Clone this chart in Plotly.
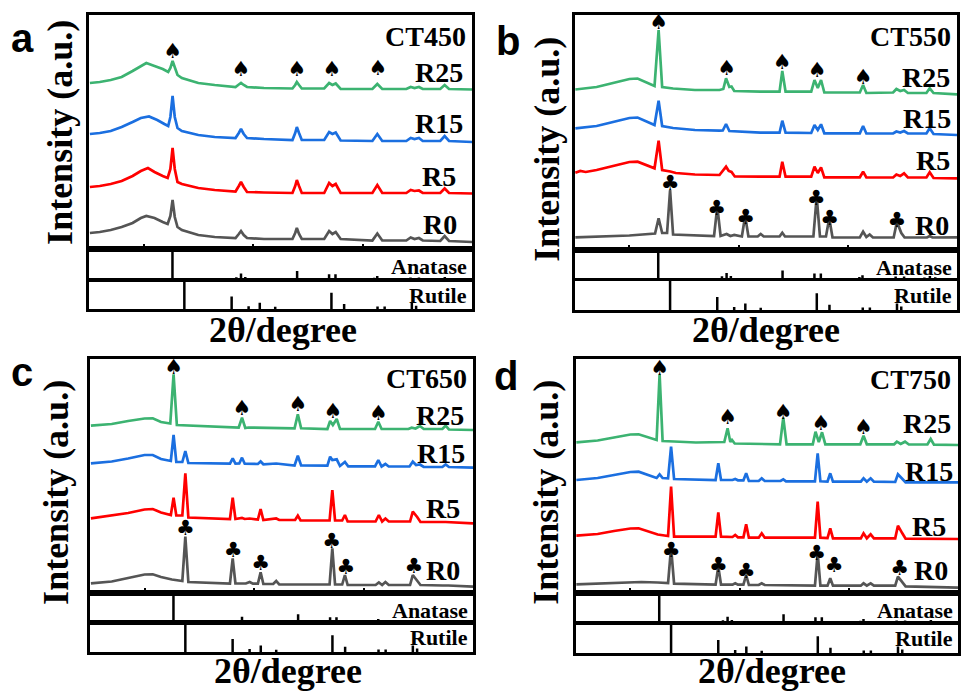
import plotly.graph_objects as go

W, H = 961, 691
THETA_RANGE = [10, 80]

# ---------------- reference stick patterns ----------------
ANATASE_POS = [25.28, 36.95, 37.80, 38.58, 48.05, 53.89, 55.06, 62.12, 62.69, 68.76, 70.31, 74.03, 75.03, 76.02]
ANATASE_INT = [100, 6, 18, 7, 27, 16, 16, 4, 10, 5, 5, 2, 7, 3]
RUTILE_POS = [27.45, 36.09, 39.19, 41.23, 44.05, 54.32, 56.64, 62.74, 64.04, 69.01, 69.79]
RUTILE_INT = [100, 45, 10, 22, 8, 58, 18, 9, 9, 22, 12]

SERIES_NAMES = ["R0", "R5", "R15", "R25"]
SAMPLE_TITLES = ["CT450", "CT550", "CT650", "CT750"]
PANEL_LETTERS = ["a", "b", "c", "d"]

# ---------------- panel a (CT450): (2theta, intensity a.u.) ----------------
A_R0 = [(10.2,16),(12,17),(14,19),(16,22),(18,26),(19.5,31),(20.5,33),(22,31),(23.5,27),(24.4,25),(24.9,33),(25.3,49),(25.7,32),(26.2,22),(27,19),(30,14),(33,12),(36.8,11),(37.4,15),(37.8,18),(38.3,14),(38.9,11),(42,10),(47.2,10),(47.7,16),(48.0,21),(48.4,15),(48.9,10),(53.0,10),(53.9,18),(54.5,15),(55.1,17),(56.0,10),(61.8,8.5),(62.7,15.5),(63.6,8.5),(68.0,8.5),(68.8,11.5),(69.5,10),(70.3,11),(71.0,8.5),(74.2,8),(75.0,13),(75.8,8),(80,7)]
A_R5 = [(10.2,62),(12,63),(14,65),(16,68),(18,73),(19.5,78),(20.8,81),(22,77),(23.5,73),(24.4,71),(24.9,80),(25.3,101),(25.7,80),(26.2,67),(27,65),(30,61),(33,59),(36.8,57.5),(37.4,63),(37.8,67),(38.3,62),(38.9,57),(42,56.5),(47.2,56),(47.7,63),(48.0,69),(48.4,63),(48.9,56),(53.0,56),(53.9,66),(54.5,63),(55.1,65),(56.0,56),(61.8,56),(62.7,64),(63.6,56),(68.0,56),(68.8,59),(69.5,58),(70.3,58.5),(71.0,56),(74.2,56),(75.0,60.5),(75.8,56),(80,55.5)]
A_R15 = [(10.2,115),(12,116),(14,118),(16,122),(18,127),(19.5,131),(21,132.5),(22.5,129),(23.8,125),(24.5,123),(24.9,132),(25.3,153),(25.7,132),(26.2,121),(27,118),(30,114),(33,112),(36.8,111),(37.4,116),(37.8,120),(38.3,115),(38.9,111),(42,110),(47.2,109),(47.7,116),(48.0,122),(48.4,116),(48.9,109),(53.0,109),(53.9,117),(54.5,115),(55.1,116.5),(56.0,108.5),(61.8,108),(62.7,115),(63.6,108),(68.0,108),(68.8,111),(69.5,110),(70.3,111),(71.0,108),(74.2,108),(75.0,113),(75.8,108),(80,107)]
A_R25 = [(10.2,166),(12,167),(14,169),(16,172),(18,178),(19.5,183),(20.5,186),(22,183),(23.5,180),(24.5,177),(24.9,181),(25.3,188),(25.7,181),(26.2,174),(27,171),(30,166),(33,164),(36.8,162),(37.4,164.5),(37.8,166),(38.3,164),(38.9,162),(42,161),(47.2,160.5),(47.7,164),(48.0,167),(48.4,164),(48.9,160.5),(53.0,160.5),(53.9,166),(54.5,164),(55.1,165.5),(56.0,160),(61.8,160),(62.7,165),(63.6,160),(68.0,160),(68.8,162),(69.5,161),(70.3,162),(71.0,160),(74.2,160),(75.0,164),(75.8,160),(80,159.5)]
A_SPADES = [(25.3,196),(37.8,178),(48.0,178),(54.4,178),(62.8,179)]
A_CLUBS = []
A_LABELS = [(79.3,213),(77.7,25),(77.5,73),(78.8,126),(78.7,177)]  # title, R0, R5, R15, R25

# ---------------- panel b (CT550) ----------------
B_R0 = [(10.1,12.7),(15,13.5),(20,14.5),(24.7,16.5),(25.35,31.7),(26.0,17),(26.9,17),(27.45,60),(28.0,15.5),(35.5,14),(36.1,43.3),(36.7,14),(37.8,16),(38.5,14),(39.2,15),(40.6,13.5),(41.2,34),(41.8,13.5),(43.5,13.5),(44.05,16),(44.6,13.5),(47.5,13.5),(48.0,17.3),(48.5,13.5),(53.7,13.5),(54.3,53.3),(54.9,13.5),(56.0,13.5),(56.6,31.7),(57.2,12.5),(62.2,12.5),(62.8,18.3),(63.4,13),(64.0,15.5),(64.6,12.5),(68.4,12.5),(69.0,28.3),(69.8,17),(70.4,12.5),(74.5,12.5),(75.0,14),(75.5,12.5),(80,12.7)]
B_R5 = [(10.1,77.3),(11,79),(12,78),(14,80),(17,84),(20,88),(21.5,88.3),(23,85),(24.6,81.7),(25.35,109.3),(26.0,80),(27.5,78.5),(28.5,77),(32,75.5),(36.5,75),(37.7,83.3),(38.2,79),(38.7,78),(39.3,73.5),(44,73.3),(47.5,73.3),(48.0,88.3),(48.6,73.3),(53.3,73.3),(53.9,83.3),(54.5,77),(55.1,82.7),(55.7,72.7),(62.2,72.7),(62.8,78.3),(63.4,72.5),(68.3,72.5),(68.9,75.5),(69.6,74),(70.3,76.7),(71.0,72.5),(74.4,72.5),(75.0,77.7),(75.7,72),(80,71.7)]
B_R15 = [(10.1,121.7),(14,124),(17,128),(20,132),(21.5,132.5),(23,129),(24.6,125),(25.35,149.3),(26.0,124),(28,122),(32,120),(36.5,119.3),(37.1,119.5),(37.7,126),(38.3,119),(44,117.3),(47.5,117.3),(48.0,129.3),(48.6,117.3),(53.3,117),(53.9,125),(54.5,120),(55.1,125.7),(55.7,116.7),(62.2,116.7),(62.8,124),(63.4,116.5),(68.3,116.5),(68.9,118.5),(69.6,117.5),(70.3,119),(71.0,116.5),(74.4,116.5),(75.0,121.7),(75.7,116),(80,115)]
B_R25 = [(10.1,160.5),(14,163),(17,167),(20,171),(21.5,171.5),(23,168),(24.6,164),(25.35,220),(26.0,163),(28,161.5),(32,160),(36.5,160),(37.2,161),(37.7,171.7),(38.3,163),(38.7,163.5),(39.2,159),(44,158.3),(47.5,158.3),(48.0,179),(48.6,158.3),(53.3,158.3),(53.9,170),(54.5,162),(55.1,170),(55.7,157.5),(62.2,157.5),(62.8,165),(63.4,157),(68.3,157.5),(68.9,161),(69.6,159),(70.3,160),(71.0,157),(74.4,157),(75.0,161.7),(75.7,157),(80,155.7)]
B_SPADES = [(25.35,226),(37.8,180),(48.0,186.7),(54.4,178),(62.8,171.7)]
B_CLUBS = [(27.45,65),(36.0,40),(41.3,31.7),(54.2,50),(56.7,30),(69.0,28.3)]
B_LABELS = [(79.3,214),(78.9,25),(79.0,90),(79.3,131.7),(79.0,172.7)]

# ---------------- panel c (CT650) ----------------
C_R0 = [(10.2,9.7),(14,11.5),(17,15),(20,18.5),(21.5,18.7),(23,16),(25,13.5),(26.9,12),(27.45,56.3),(28.0,11),(35.6,9.5),(36.1,34.7),(36.6,9.5),(38.5,9.5),(39.2,11),(39.8,9.3),(40.7,9.3),(41.2,20.7),(41.7,9),(43.5,9),(44.05,12),(44.6,8.7),(53.8,8.5),(54.3,44.7),(54.8,8.5),(56.1,8.5),(56.6,18),(57.1,8),(62.2,8),(62.8,10.5),(63.4,8),(64.0,11),(64.6,8),(68.5,8),(69.0,18),(69.8,12.7),(70.4,8),(74.5,7.5),(75.5,7.5),(80,6.3)]
C_R5 = [(10.2,74.7),(12,76),(14,77.5),(17,80),(20,83.5),(21.5,84),(23,80.5),(24.8,78),(25.3,95.3),(25.8,77.5),(26.9,77.5),(27.45,119.7),(28.0,75.5),(35.6,74),(36.1,95.3),(36.6,74),(37.8,75),(38.3,74),(39.2,74.5),(40.7,73.5),(41.2,84),(41.7,73),(44.05,74.5),(44.6,73),(47.5,73),(48.0,77.3),(48.5,72.5),(53.8,72.5),(54.3,103),(54.8,72.5),(56.1,72.5),(56.6,78),(57.1,71.5),(62.2,71.5),(62.8,78),(63.4,71.5),(64.0,74.5),(64.6,71.5),(68.5,71.5),(69.0,81.3),(69.8,76),(70.4,71),(75,71),(80,69.7)]
C_R15 = [(10.2,129.7),(14,131.5),(17,134.5),(20,138),(21.5,138),(23,134),(24.8,132),(25.3,158),(25.8,131),(26.9,131),(27.45,142),(28.0,130),(35.6,129.3),(36.1,134.7),(36.6,129.3),(37.3,129.5),(37.8,135.3),(38.3,129.3),(40.7,129),(41.2,131.5),(41.7,128.7),(44.05,129.5),(47.4,127.5),(48.0,137.3),(48.6,127.5),(53.4,127.3),(53.9,136.3),(54.3,133),(55.1,133.7),(55.7,127),(56.6,131),(57.2,126.7),(62.1,126.7),(62.7,133),(63.3,126.5),(64.0,129),(64.6,126.5),(68.4,126.5),(69.0,131.3),(69.6,128),(70.3,128.5),(71.0,126),(74.4,126),(75.0,128.5),(75.6,126),(80,125.3)]
C_R25 = [(10.2,167.3),(14,169),(17,172),(20,174.5),(21.5,174.7),(23,171),(24.7,169.5),(25.3,218.7),(25.9,168),(28,167.5),(32,167),(37.2,165.5),(37.8,175.3),(38.4,165),(39.0,165.5),(47.4,164.7),(48.0,178.7),(48.6,164.7),(53.4,164),(53.9,172),(54.4,168),(55.1,174),(55.7,164),(62.1,164),(62.7,171.3),(63.3,164),(68.2,164),(68.8,165.3),(69.5,164.5),(70.3,167),(71.0,164),(74.4,164),(75.0,167.3),(75.6,163.5),(80,163)]
C_SPADES = [(25.3,224.7),(37.8,183),(48.0,187),(54.4,180.3),(62.7,178.7)]
C_CLUBS = [(27.45,63.7),(36.2,41.3),(41.2,28),(54.2,50.7),(56.8,24.7),(69.2,25.3)]
C_LABELS = [(79.3,214.7),(78.0,23),(78.0,84.7),(78.9,139.7),(78.8,178)]

# ---------------- panel d (CT750) ----------------
D_R0 = [(10.1,8.7),(14,9.5),(17,10.5),(20,11.3),(22,11),(25,10.5),(26.9,10),(27.45,45.3),(28.0,9.3),(35.6,8.3),(36.1,26.3),(36.6,8.3),(38.7,8.3),(39.2,9.7),(39.7,8.3),(40.7,8.3),(41.2,18),(41.7,8),(43.5,8),(44.05,9.7),(44.6,8),(53.8,7.3),(54.3,39.7),(54.8,7.3),(56.1,7.3),(56.6,14.7),(57.1,7.3),(62.2,7.3),(62.7,9.7),(63.3,7.3),(64.0,9.7),(64.6,7.3),(68.5,7.3),(69.0,16.3),(69.8,10.7),(70.4,6.7),(80,5.3)]
D_R5 = [(10.1,57.3),(14,59),(17,62),(20,64.5),(21.5,64.7),(23,62),(25,58.5),(26.9,57),(27.45,106.3),(28.0,56.3),(35.6,56.3),(36.1,80.7),(36.6,56.3),(38.7,56),(39.2,58),(39.7,55.7),(40.7,55.7),(41.2,68.7),(41.7,55.3),(43.5,55.3),(44.05,59.7),(44.6,55.3),(53.8,55.3),(54.3,91.3),(54.8,55.3),(56.1,55),(56.6,64.7),(57.1,54.7),(62.2,54.7),(62.7,59.7),(63.3,54.7),(64.0,58.7),(64.6,54.7),(68.5,54.7),(69.0,67.3),(69.8,59.7),(70.4,54.3),(80,54)]
D_R15 = [(10.1,113),(14,115),(17,118),(20,121),(21.5,121.3),(23,118.5),(24.8,115),(25.35,118.7),(25.9,115),(26.9,114.7),(27.45,146.3),(28.0,114),(35.6,113),(36.1,129.7),(36.6,113),(38.7,113),(39.2,114),(39.7,112.7),(40.7,112.7),(41.2,119.7),(41.7,112),(43.5,112),(44.05,114.7),(44.6,112),(47.5,112),(48.0,113.7),(48.5,111.7),(53.8,111.7),(54.3,139.7),(54.8,111.7),(56.1,111.5),(56.6,119.7),(57.1,111.3),(62.2,111.3),(62.7,114.7),(63.3,111.3),(64.0,114.7),(64.6,111.3),(68.5,111),(69.0,118.7),(69.8,114.7),(70.4,110.7),(80,110.7)]
D_R25 = [(10.1,150.7),(14,152.5),(17,155.5),(20,158.5),(21.5,158.7),(23,156),(24.8,153),(25.35,218.7),(25.9,152),(28,151.5),(32,150.5),(37.2,151),(37.8,164.7),(38.3,151),(38.6,153),(39.1,149.5),(47.4,148.7),(48.0,175.3),(48.6,148.7),(53.4,148.7),(53.9,161.3),(54.5,151),(55.1,160.7),(55.7,148.7),(62.1,148.7),(62.7,157.3),(63.3,148.7),(68.3,148.7),(68.8,151.3),(69.5,149),(70.3,151.3),(71.0,148.5),(74.4,148.5),(75.0,154),(75.6,148.3),(80,148)]
D_SPADES = [(25.35,223),(37.8,174),(48.0,179.7),(54.9,168.7),(62.7,164)]
D_CLUBS = [(27.45,41.3),(36.1,26.3),(41.2,20.7),(54.1,38.7),(57.3,26.3),(69.3,23)]
D_LABELS = [(79.1,213.7),(78.5,23),(78.2,66.3),(79.4,122),(79.1,169.7)]

# ---------------- styling / layout (pixel geometry) ----------------
COLORS = ["#555555", "#ff0000", "#1b6fe0", "#3cb371"]
PANELS = [
    dict(series=[A_R0, A_R5, A_R15, A_R25], spades=A_SPADES, clubs=A_CLUBS, labels=A_LABELS,
         left=89, right=473, top=15, mid=249, ana_bot=279, rut_top=281, bot=309,
         letter=(23, 38), ytitle=(60, 132), xtitle=(284, 330)),
    dict(series=[B_R0, B_R5, B_R15, B_R25], spades=B_SPADES, clubs=B_CLUBS, labels=B_LABELS,
         left=576, right=959, top=15, mid=250, ana_bot=278, rut_top=281, bot=310,
         letter=(509, 40.5), ytitle=(548, 149), xtitle=(768, 330)),
    dict(series=[C_R0, C_R5, C_R15, C_R25], spades=C_SPADES, clubs=C_CLUBS, labels=C_LABELS,
         left=90, right=474, top=359, mid=593, ana_bot=622, rut_top=623, bot=652,
         letter=(22.5, 371.5), ytitle=(56, 492), xtitle=(289, 671)),
    dict(series=[D_R0, D_R5, D_R15, D_R25], spades=D_SPADES, clubs=D_CLUBS, labels=D_LABELS,
         left=577, right=960, top=359, mid=593, ana_bot=622, rut_top=624, bot=653,
         letter=(507.5, 375.5), ytitle=(547, 492), xtitle=(774, 671)),
]

SERIF = "Liberation Serif"
fig = go.Figure()
layout = dict(width=W, height=H, margin=dict(l=0, r=0, t=0, b=0),
              paper_bgcolor="white", plot_bgcolor="white", showlegend=False)
annotations = []


def names(k):
    s = "" if k == 1 else str(k)
    return "x" + s, "y" + s, "xaxis" + s, "yaxis" + s


def sticks(pos, inten):
    xs, ys = [], []
    for p, v in zip(pos, inten):
        xs += [p, p, None]
        ys += [0, v, None]
    return xs, ys


for pi, P in enumerate(PANELS):
    kmain, kana, krut = 3 * pi + 1, 3 * pi + 2, 3 * pi + 3
    main_h = P["mid"] - P["top"]
    boxes = [(kmain, P["top"], P["mid"], [0, main_h]),
             (kana, P["mid"], P["ana_bot"], [0, 100]),
             (krut, P["rut_top"], P["bot"], [0, 100])]
    for k, top, bottom, yr in boxes:
        xr, yref, xname, yname = names(k)
        xa = dict(domain=[P["left"] / W, P["right"] / W], range=THETA_RANGE, anchor=yref,
                  showline=True, mirror=True, linecolor="black", linewidth=3,
                  showgrid=False, zeroline=False, showticklabels=False, ticks="")
        if k == kmain:
            xa.update(ticks="inside", tickvals=[20, 40, 60], ticklen=5, tickwidth=2, tickcolor="black")
        layout[xname] = xa
        layout[yname] = dict(domain=[1 - bottom / H, 1 - top / H], range=yr, anchor=xr,
                             showline=True, mirror=True, linecolor="black", linewidth=3,
                             showgrid=False, zeroline=False, showticklabels=False, ticks="")

    xm, ym, _, _ = names(kmain)
    for si, ser in enumerate(P["series"]):
        fig.add_trace(go.Scatter(x=[p[0] for p in ser], y=[p[1] for p in ser], mode="lines",
                                 line=dict(color=COLORS[si], width=2.7), xaxis=xm, yaxis=ym,
                                 name=SERIES_NAMES[si], hoverinfo="skip"))
    for pts, glyph in ((P["spades"], "\u2660"), (P["clubs"], "\u2663")):
        if pts:
            fig.add_trace(go.Scatter(x=[p[0] for p in pts], y=[p[1] for p in pts], mode="text",
                                     text=[glyph] * len(pts), textposition="middle center",
                                     textfont=dict(family="DejaVu Sans", size=21, color="black"),
                                     xaxis=xm, yaxis=ym, hoverinfo="skip", cliponaxis=False))
    # stick patterns
    for k, pos, inten, lab, ymid in ((kana, ANATASE_POS, ANATASE_INT, "Anatase", P["mid"] + 17),
                                     (krut, RUTILE_POS, RUTILE_INT, "Rutile", P["rut_top"] + 14)):
        xr, yref, _, _ = names(k)
        sx, sy = sticks(pos, inten)
        fig.add_trace(go.Scatter(x=sx, y=sy, mode="lines", line=dict(color="black", width=2.5),
                                 xaxis=xr, yaxis=yref, hoverinfo="skip"))
        annotations.append(dict(text=lab, x=(P["right"] - 3) / W, y=1 - ymid / H, xref="paper", yref="paper",
                                xanchor="right", yanchor="middle", showarrow=False,
                                font=dict(family=SERIF, size=22, color="black", weight="bold")))
    # sample title + series labels
    label_texts = [SAMPLE_TITLES[pi]] + SERIES_NAMES
    for txt, (lx, ly) in zip(label_texts, P["labels"]):
        annotations.append(dict(text=txt, x=lx, y=ly, xref=xm, yref=ym, xanchor="right", yanchor="middle",
                                showarrow=False, font=dict(family=SERIF, size=28, color="black", weight="bold")))
    # panel letter
    annotations.append(dict(text=PANEL_LETTERS[pi], x=P["letter"][0] / W, y=1 - P["letter"][1] / H,
                            xref="paper", yref="paper", xanchor="center", yanchor="middle", showarrow=False,
                            font=dict(family="Liberation Sans", size=40, color="black", weight="bold")))
    # axis titles
    annotations.append(dict(text="Intensity (a.u.)", x=P["ytitle"][0] / W, y=1 - P["ytitle"][1] / H,
                            xref="paper", yref="paper", xanchor="center", yanchor="middle", textangle=-90,
                            showarrow=False, font=dict(family=SERIF, size=36, color="black", weight="bold")))
    annotations.append(dict(text="2\u03b8/degree", x=P["xtitle"][0] / W, y=1 - P["xtitle"][1] / H,
                            xref="paper", yref="paper", xanchor="center", yanchor="middle",
                            showarrow=False, font=dict(family=SERIF, size=36, color="black", weight="bold")))

layout["annotations"] = annotations
fig.update_layout(**layout)
fig.write_html("out.html", config={"displayModeBar": False},
               post_script="document.body.style.margin='0px';document.body.style.overflow='hidden';")
